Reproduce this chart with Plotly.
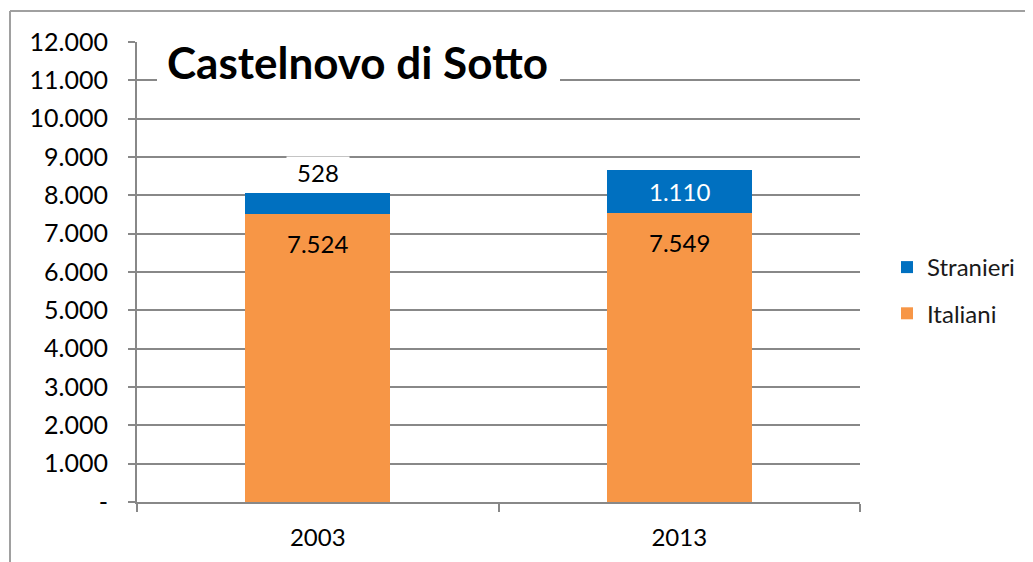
import plotly.graph_objects as go

years = ["2003", "2013"]
italiani = [7524, 7549]
stranieri = [528, 1110]
ytick_vals = [0, 1000, 2000, 3000, 4000, 5000, 6000, 7000, 8000, 9000, 10000, 11000, 12000]
ytick_text = ["-", "1.000", "2.000", "3.000", "4.000", "5.000", "6.000", "7.000", "8.000", "9.000", "10.000", "11.000", "12.000"]
title_text = "Castelnovo di Sotto"

# page body has an 8px margin; work in reference-screen pixels and shift
OFF = 8
W, H = 1033 - OFF, 562 - OFF
L, R, T, B = 137, 860, 42, 502  # plot area in screen pixels
def px(x):
    return (x - L) / (R - L)
def py(y):
    return (B - y) / (B - T)

def fmt(v):
    return f"{v:,}".replace(",", ".")

FONT = "Lato"
GRID = "#888888"
ORANGE = "#F79646"
BLUE = "#0070C0"

fig = go.Figure()
fig.add_trace(go.Bar(x=years, y=italiani, name="Italiani", marker=dict(color=ORANGE, line=dict(width=0)),
                     width=0.4, legendrank=2, legendgroup="i"))
fig.add_trace(go.Bar(x=years, y=stranieri, name="Stranieri", marker=dict(color=BLUE, line=dict(width=0)),
                     width=0.4, legendrank=1, legendgroup="s"))

annotations = []
for i, v in enumerate(italiani):
    annotations.append(dict(x=i, y=v, xref="x", yref="y", text=fmt(v), showarrow=False,
                            yshift=-30, font=dict(family=FONT, size=24, color="#000000")))
for i, (vi, vs) in enumerate(zip(italiani, stranieri)):
    if i == 0:
        annotations.append(dict(x=i, y=vi + vs, xref="x", yref="y", text=fmt(vs), showarrow=False,
                                yshift=21, bgcolor="white", borderpad=0, width=62, height=30,
                                font=dict(family=FONT, size=24, color="#000000")))
    else:
        annotations.append(dict(x=i, y=vi + vs / 2, xref="x", yref="y", text=fmt(vs), showarrow=False,
                                font=dict(family=FONT, size=24, color="#FFFFFF")))

annotations.append(dict(x=px(165), y=py(62), xref="paper", yref="paper", xanchor="left", yanchor="middle",
                        text="<b>" + title_text + "</b>", showarrow=False,
                        font=dict(family=FONT, size=44, color="#000000")))

shapes = [
    dict(type="rect", xref="paper", yref="paper", x0=px(157), x1=px(560), y0=py(97), y1=py(36),
         fillcolor="white", line=dict(width=0), layer="above"),
    dict(type="line", xref="paper", yref="paper", x0=px(10), x1=px(1045), y0=py(11), y1=py(11),
         line=dict(color="#A0A0A0", width=2)),
    dict(type="line", xref="paper", yref="paper", x0=px(10), x1=px(10), y0=py(11), y1=py(575),
         line=dict(color="#A0A0A0", width=2)),
]

fig.update_layout(
    width=W, height=H,
    margin=dict(l=L - OFF, r=1033 - R, t=T - OFF, b=562 - B, pad=0, autoexpand=False),
    paper_bgcolor="white", plot_bgcolor="white",
    barmode="stack",
    showlegend=True,
    legend=dict(x=px(887), y=py(245), xanchor="left", yanchor="top",
                traceorder="grouped", tracegroupgap=12,
                font=dict(family=FONT, size=24, color="#1a1a1a"),
                itemwidth=30, bgcolor="rgba(0,0,0,0)"),
    annotations=annotations,
    shapes=shapes,
    font=dict(family=FONT, size=24, color="#000000"),
)
fig.update_xaxes(type="category", range=[-0.5, 1.5], autorange=False,
                 showgrid=False, showline=True, linecolor=GRID, linewidth=2,
                 ticks="outside", tickson="boundaries", ticklen=8, tickcolor=GRID, tickwidth=2,
                 tickangle=0, automargin=False,
                 tickfont=dict(family=FONT, size=24, color="#000000"), ticklabelstandoff=13)
fig.update_yaxes(range=[0, 12000], autorange=False, tickvals=ytick_vals, ticktext=ytick_text,
                 showgrid=True, gridcolor=GRID, gridwidth=2,
                 showline=True, linecolor=GRID, linewidth=2,
                 ticks="outside", ticklen=7, tickcolor=GRID, tickwidth=2,
                 zeroline=False, automargin=False,
                 tickfont=dict(family=FONT, size=25, color="#000000"), ticklabelstandoff=15)

fig.write_html("out.html")
